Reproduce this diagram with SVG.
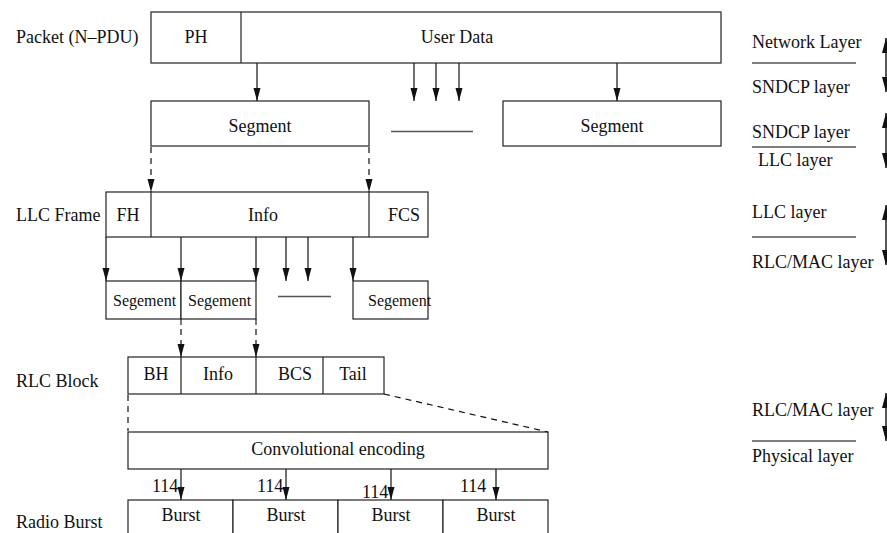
<svg xmlns="http://www.w3.org/2000/svg" width="887" height="533" viewBox="0 0 887 533">
  <style>
    text { font-family: "Liberation Serif", "Times New Roman", serif; font-size: 18px; fill: #111; }
    .c { text-anchor: middle; }
    .sm { font-size: 16px; }
    .box { fill: #fff; stroke: #222; stroke-width: 1.2; }
    .div { stroke: #222; stroke-width: 1.2; }
    .arr { stroke: #111; stroke-width: 1.2; fill: none; marker-end: url(#ah); }
    .dash { stroke: #111; stroke-width: 1.2; fill: none; stroke-dasharray: 6 5; }
    .dasharr { stroke: #111; stroke-width: 1.2; fill: none; stroke-dasharray: 6 5; marker-end: url(#ah); }
    .sep { stroke: #555; stroke-width: 1.3; }
    .dbl { stroke: #111; stroke-width: 1.4; fill: none; marker-start: url(#dh); marker-end: url(#dh); }
  </style>
  <defs>
    <marker id="ah" markerUnits="userSpaceOnUse" markerWidth="14" markerHeight="8" refX="13" refY="3.5" orient="auto">
      <path d="M0,0 L13,3.5 L0,7 z" fill="#111"/>
    </marker>
    <marker id="dh" markerUnits="userSpaceOnUse" markerWidth="16" markerHeight="10" refX="15" refY="4" orient="auto-start-reverse">
      <path d="M0,0 L15,4 L0,8 z" fill="#111"/>
    </marker>
  </defs>

  <rect width="887" height="533" fill="#fff"/>

  <!-- row labels -->
  <g id="row-labels">
    <text x="16" y="43">Packet (N–PDU)</text>
    <text x="16" y="221">LLC Frame</text>
    <text x="16" y="387">RLC Block</text>
    <text x="16" y="528">Radio Burst</text>
  </g>

  <!-- packet -->
  <g id="packet">
    <rect class="box" x="151" y="12" width="570" height="51"/>
    <line class="div" x1="241" y1="12" x2="241" y2="63"/>
    <text class="c" x="196" y="43">PH</text>
    <text class="c" x="457" y="43">User Data</text>
  </g>

  <!-- SNDCP segments -->
  <g id="segment-1">
    <rect class="box" x="151" y="101" width="218" height="45"/>
    <text class="c" x="260" y="132">Segment</text>
  </g>
  <g id="segment-gap">
    <line class="sep" x1="391" y1="131.5" x2="473" y2="131.5"/>
  </g>
  <g id="segment-2">
    <rect class="box" x="503" y="101" width="218" height="45"/>
    <text class="c" x="612" y="132">Segment</text>
  </g>

  <!-- LLC frame -->
  <g id="llc-frame">
    <rect class="box" x="106" y="192" width="322" height="45"/>
    <line class="div" x1="151" y1="192" x2="151" y2="237"/>
    <line class="div" x1="369" y1="192" x2="369" y2="237"/>
    <text class="c" x="128" y="221">FH</text>
    <text class="c" x="263" y="221">Info</text>
    <text class="c" x="404" y="221">FCS</text>
  </g>

  <!-- LLC segments: outlines first, then labels so they sit on top -->
  <g id="llc-seg-1">
    <rect class="box" x="106" y="281" width="75" height="38"/>
  </g>
  <g id="llc-seg-2">
    <rect class="box" x="181" y="281" width="75" height="38"/>
  </g>
  <g id="llc-seg-3">
    <rect class="box" x="353" y="281" width="75" height="38"/>
  </g>
  <g id="llc-seg-labels">
    <text class="sm" x="113" y="306">Segement</text>
    <text class="sm" x="188" y="306">Segement</text>
    <text class="sm" x="368" y="306">Segement</text>
  </g>
  <g id="llc-seg-gap">
    <line class="sep" x1="278" y1="296.5" x2="331" y2="296.5"/>
  </g>

  <!-- RLC block -->
  <g id="rlc-block">
    <rect class="box" x="128" y="357" width="256" height="37"/>
    <line class="div" x1="181" y1="357" x2="181" y2="394"/>
    <line class="div" x1="256" y1="357" x2="256" y2="394"/>
    <line class="div" x1="323" y1="357" x2="323" y2="394"/>
    <text class="c" x="156" y="380">BH</text>
    <text class="c" x="218" y="380">Info</text>
    <text class="c" x="295" y="380">BCS</text>
    <text class="c" x="353" y="380">Tail</text>
  </g>

  <!-- convolutional encoder -->
  <g id="conv-encoding">
    <rect class="box" x="128" y="432" width="420" height="37"/>
    <text class="c" x="338" y="455">Convolutional encoding</text>
  </g>

  <!-- radio bursts -->
  <g id="bursts">
    <rect class="box" x="128" y="500" width="105" height="40"/>
    <rect class="box" x="233" y="500" width="105" height="40"/>
    <rect class="box" x="338" y="500" width="105" height="40"/>
    <rect class="box" x="443" y="500" width="105" height="40"/>
    <text class="c" x="181" y="521">Burst</text>
    <text class="c" x="286" y="521">Burst</text>
    <text class="c" x="391" y="521">Burst</text>
    <text class="c" x="496" y="521">Burst</text>
  </g>

  <!-- connectors -->
  <g id="connectors">
    <line class="arr" x1="257" y1="63" x2="257" y2="101"/>
    <line class="arr" x1="414" y1="63" x2="414" y2="101"/>
    <line class="arr" x1="436" y1="63" x2="436" y2="101"/>
    <line class="arr" x1="459" y1="63" x2="459" y2="101"/>
    <line class="arr" x1="617" y1="63" x2="617" y2="101"/>

    <line class="dasharr" x1="151" y1="147" x2="151" y2="192"/>
    <line class="dasharr" x1="369" y1="147" x2="369" y2="192"/>

    <line class="arr" x1="106" y1="237" x2="106" y2="281"/>
    <line class="arr" x1="181" y1="237" x2="181" y2="281"/>
    <line class="arr" x1="256" y1="237" x2="256" y2="281"/>
    <line class="arr" x1="286" y1="237" x2="286" y2="281"/>
    <line class="arr" x1="308" y1="237" x2="308" y2="281"/>
    <line class="arr" x1="353" y1="237" x2="353" y2="281"/>

    <line class="div" x1="181" y1="319" x2="181" y2="325"/>
    <line class="div" x1="256" y1="319" x2="256" y2="325"/>
    <line class="dasharr" x1="181" y1="329" x2="181" y2="357"/>
    <line class="dasharr" x1="256" y1="329" x2="256" y2="357"/>

    <line class="dash" x1="128" y1="395" x2="128" y2="431"/>
    <line class="dash" x1="384" y1="394" x2="548" y2="432"/>

    <line class="arr" x1="181" y1="469" x2="181" y2="500"/>
    <line class="arr" x1="286" y1="469" x2="286" y2="500"/>
    <line class="arr" x1="391" y1="469" x2="391" y2="500"/>
    <line class="arr" x1="496" y1="469" x2="496" y2="500"/>
    <text x="152" y="492">114</text>
    <text x="257" y="492">114</text>
    <text x="362" y="498">114</text>
    <text x="460" y="492">114</text>
  </g>

  <!-- layer boundaries -->
  <g id="layer-network-sndcp">
    <text x="752" y="48">Network Layer</text>
    <line class="sep" x1="752" y1="63" x2="856" y2="63"/>
    <text x="752" y="93">SNDCP layer</text>
    <line class="dbl" x1="886" y1="38" x2="886" y2="92"/>
  </g>
  <g id="layer-sndcp-llc">
    <text x="752" y="138">SNDCP layer</text>
    <line class="sep" x1="752" y1="147" x2="856" y2="147"/>
    <text x="758" y="166">LLC layer</text>
    <line class="dbl" x1="886" y1="113" x2="886" y2="168"/>
  </g>
  <g id="layer-llc-rlc">
    <text x="752" y="218">LLC layer</text>
    <line class="sep" x1="752" y1="237" x2="856" y2="237"/>
    <text x="752" y="268">RLC/MAC layer</text>
    <line class="dbl" x1="886" y1="205" x2="886" y2="265"/>
  </g>
  <g id="layer-rlc-phy">
    <text x="752" y="416">RLC/MAC layer</text>
    <line class="sep" x1="752" y1="441" x2="856" y2="441"/>
    <text x="752" y="462">Physical layer</text>
    <line class="dbl" x1="886" y1="393" x2="886" y2="441"/>
  </g>
</svg>
